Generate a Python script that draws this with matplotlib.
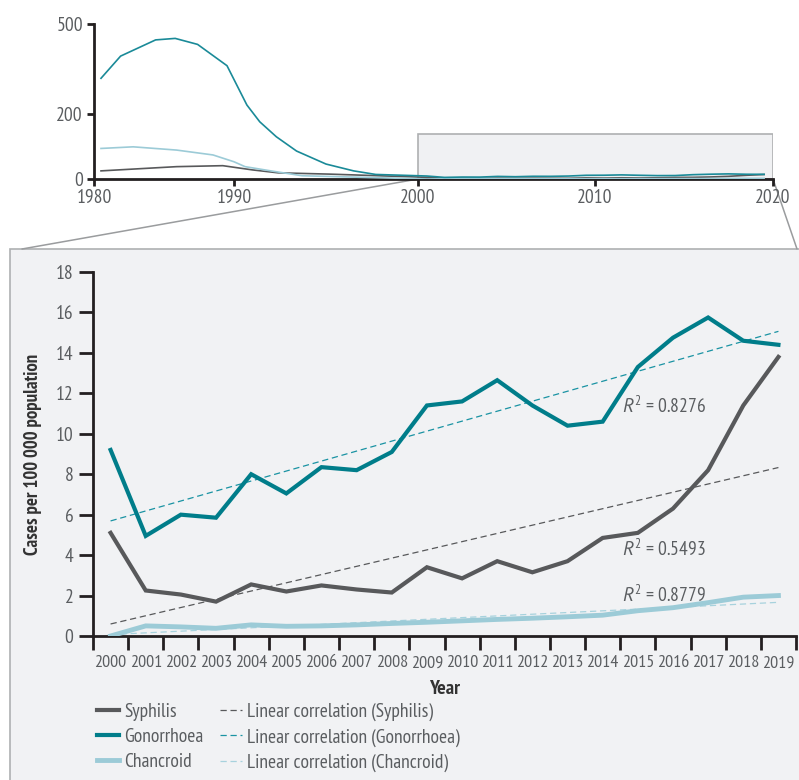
"""
Syphilis, gonorrhoea and chancroid notification rates
Overview 1980-2020 with a zoomed panel for 2000-2019
"""

import numpy as np
import matplotlib
matplotlib.use('Agg')
import matplotlib.pyplot as plt
from matplotlib.patches import Rectangle, ConnectionPatch

# ---- data (cases per 100 000 population) ----
years = np.arange(2000, 2020)
syphilis = [5.1, 2.25, 2.05, 1.7, 2.55, 2.2, 2.5, 2.3, 2.15, 3.4,
            2.85, 3.7, 3.15, 3.7, 4.85, 5.1, 6.3, 8.2, 11.4, 13.8]
gonorrhoea = [9.2, 4.95, 6.0, 5.85, 8.0, 7.05, 8.35, 8.2, 9.1, 11.4,
              11.6, 12.65, 11.4, 10.4, 10.6, 13.3, 14.75, 15.75, 14.6, 14.4]
chancroid = [0.0, 0.5, 0.45, 0.38, 0.55, 0.48, 0.5, 0.55, 0.62, 0.68,
             0.75, 0.82, 0.88, 0.95, 1.03, 1.25, 1.4, 1.65, 1.92, 2.0]
r2_labels = ['0.5493', '0.8276', '0.8779']

# earlier years, overview chart only
early_years_gon = [1980.5, 1981.9, 1984.4, 1985.8, 1987.4, 1989.5, 1990.7,
                   1991.4, 1992.3, 1993.4, 1995.0, 1996.5, 1997.7]
early_gon = [319, 393, 447, 452, 432, 361, 230, 176, 130, 86, 46, 25, 14]
early_years_chan = [1980.5, 1982.8, 1985.9, 1988.5, 1990.0, 1990.6, 1992.0, 1993.7]
early_chan = [94, 99, 89, 74, 53, 38, 25, 10]
early_years_syph = [1980.5, 1985.9, 1989.2, 1991.0, 1992.4, 1995.2]
early_syph = [25, 38, 41, 28, 19, 15]

top_xticks = [1980, 1990, 2000, 2010, 2020]
top_yticks = [0, 200, 500]

# ---- style ----
C_SYPH = '#58595b'
C_GON = '#007d8a'
C_CHAN = '#9ccbd7'
C_TEXT = '#5a5d60'
C_PANEL = '#f1f2f4'

plt.rcParams['font.family'] = ['PT Sans Narrow', 'DejaVu Sans']
plt.rcParams['mathtext.fontset'] = 'custom'
plt.rcParams['mathtext.rm'] = 'PT Sans Narrow'
plt.rcParams['mathtext.it'] = 'PT Sans:italic'
FS = 14
plt.rcParams['font.size'] = FS


def piecewise_scale(knots, px):
    """Piecewise linear axis scale (the overview axis is not evenly spaced)"""
    k = np.asarray(knots, float)
    p = np.asarray(px, float)

    def interp(x, a, b):
        x = np.asarray(x, float)
        out = np.interp(x, a, b)
        lo_slope = (b[1] - b[0]) / (a[1] - a[0])
        hi_slope = (b[-1] - b[-2]) / (a[-1] - a[-2])
        out = np.where(x < a[0], b[0] + (x - a[0]) * lo_slope, out)
        out = np.where(x > a[-1], b[-1] + (x - a[-1]) * hi_slope, out)
        return out

    return (lambda x: interp(x, k, p)), (lambda y: interp(y, p, k))


W, H = 799, 780
fig = plt.figure(figsize=(W / 100, H / 100), dpi=100)

# grey panel behind the zoomed chart
panel = Rectangle((10 / W, -0.01), 1.0, (H - 249) / H + 0.01,
                  transform=fig.transFigure, facecolor=C_PANEL,
                  edgecolor='#aeb0b2', linewidth=1.2, zorder=-5)
fig.add_artist(panel)

# ---- overview chart ----
ax_top = fig.add_axes([94 / W, (H - 179) / H, 679 / W, 155 / H])
ax_top.set_facecolor('none')
ax_top.set_xscale('function', functions=piecewise_scale(top_xticks, [0, 140, 324, 501, 679]))
ax_top.set_yscale('function', functions=piecewise_scale(top_yticks, [0, 65, 155]))
ax_top.set_xlim(1980, 2020)
ax_top.set_ylim(0, 500)

ax_top.add_patch(Rectangle((2000, 0), 20, 140, facecolor='#f0f1f3',
                           edgecolor='#aeb0b2', linewidth=1.2, zorder=1))

ax_top.plot(np.concatenate([early_years_syph, years + 0.5]),
            np.concatenate([early_syph, syphilis]), color=C_SYPH, lw=1.2, zorder=3)
ax_top.plot(np.concatenate([early_years_chan, years + 0.5]),
            np.concatenate([early_chan, chancroid]), color=C_CHAN, lw=1.2, zorder=3)
ax_top.plot(np.concatenate([early_years_gon, years + 0.5]),
            np.concatenate([early_gon, gonorrhoea]), color='#1a8a98', lw=1.2, zorder=3)

for side in ['top', 'right']:
    ax_top.spines[side].set_visible(False)
for side in ['left', 'bottom']:
    ax_top.spines[side].set_linewidth(2)
    ax_top.spines[side].set_color('#231f20')
ax_top.set_xticks(top_xticks)
ax_top.set_yticks(top_yticks)
ax_top.minorticks_off()
ax_top.tick_params(axis='both', length=5, width=2, color='#231f20',
                   labelcolor=C_TEXT, labelsize=FS)
ax_top.tick_params(axis='x', pad=2)
ax_top.tick_params(axis='y', pad=3)

# connector lines from the highlighted box to the panel
for x_data, x_fig in [(2000, 22), (2020, 797)]:
    con = ConnectionPatch(xyA=(x_data, 0), coordsA=ax_top.transData,
                          xyB=(x_fig / W, (H - 249) / H), coordsB='figure fraction',
                          color='#9a9c9e', linewidth=1.1, zorder=-4)
    fig.add_artist(con)

# ---- zoomed chart ----
ax = fig.add_axes([93 / W, (H - 636) / H, 703 / W, 364 / H])
ax.set_facecolor('none')
x = np.arange(len(years))

series = [('Syphilis', syphilis, C_SYPH, '#58595b', 3.0),
          ('Gonorrhoea', gonorrhoea, C_GON, '#1a93a3', 3.0),
          ('Chancroid', chancroid, C_CHAN, '#a7d2dd', 3.5)]

line_handles = []
trend_handles = []
for name, vals, col, tcol, lw in series:
    h, = ax.plot(x, vals, color=col, lw=lw, solid_joinstyle='miter', label=name, zorder=3)
    slope, icpt = np.polyfit(x, vals, 1)
    t, = ax.plot(x, slope * x + icpt, color=tcol, lw=0.9, ls=(0, (5, 3)),
                 label=f'Linear correlation ({name})', zorder=2)
    line_handles.append(h)
    trend_handles.append(t)

# R squared labels
ax.text(14.55, 4.3, r'$R^2$ = ' + r2_labels[0], color=C_TEXT, fontsize=FS, va='center')
ax.text(14.55, 11.37, r'$R^2$ = ' + r2_labels[1], color=C_TEXT, fontsize=FS, va='center')
ax.text(14.55, 2.03, r'$R^2$ = ' + r2_labels[2], color=C_TEXT, fontsize=FS, va='center')

ax.set_xlim(-0.5, len(years) - 0.5)
ax.set_ylim(0, 18)
ax.set_yticks(np.arange(0, 19, 2))
ax.set_xticks(np.arange(-0.5, len(years), 1))
ax.set_xticklabels([])
ax.set_xticks(x, minor=True)
ax.set_xticklabels([str(y) for y in years], minor=True)

for side in ['top', 'right']:
    ax.spines[side].set_visible(False)
for side in ['left', 'bottom']:
    ax.spines[side].set_linewidth(2)
    ax.spines[side].set_color('#231f20')
ax.tick_params(axis='both', which='major', length=10, width=2, color='#231f20',
               labelcolor=C_TEXT, labelsize=FS)
ax.tick_params(axis='y', pad=4)
ax.tick_params(axis='x', which='minor', length=0, pad=14, labelcolor=C_TEXT, labelsize=13)

ax.set_xlabel('Year', fontsize=14.5, fontweight='bold', color='#333333', labelpad=6)
ax.set_ylabel('Cases per 100 000 population', fontsize=13.5, fontweight='bold',
              color='#333333', labelpad=10)

leg = fig.legend(line_handles + trend_handles,
                 [h.get_label() for h in line_handles + trend_handles],
                 loc='upper left', bbox_to_anchor=(97 / W, (H - 703) / H),
                 ncol=2, frameon=False, fontsize=FS, borderpad=0, borderaxespad=0,
                 handlelength=1.15, handletextpad=0.25, columnspacing=0.85,
                 labelspacing=0.36, labelcolor=C_TEXT)

plt.savefig('out.png', dpi=100)
plt.close()
